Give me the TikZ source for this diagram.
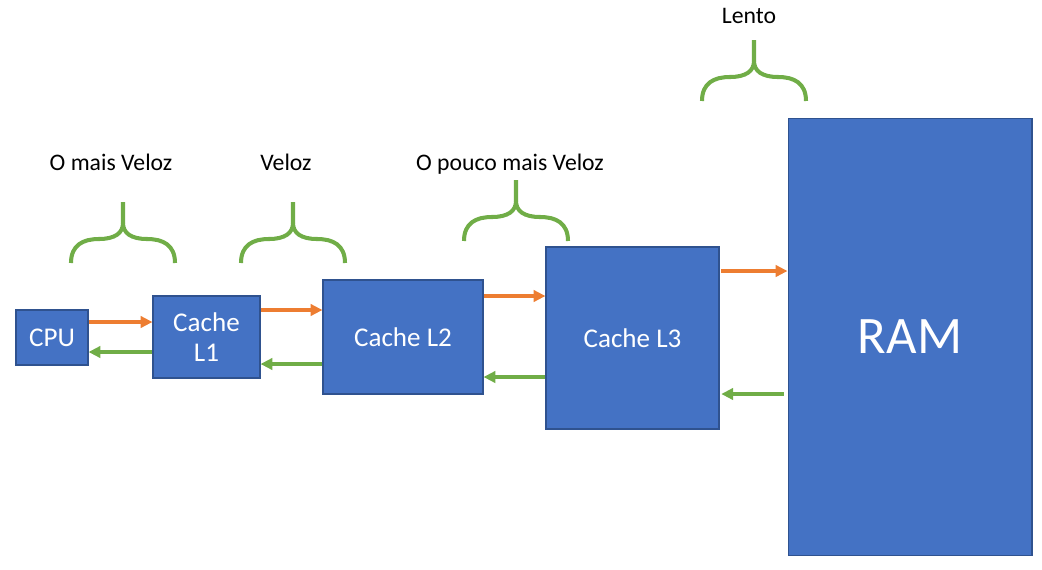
\documentclass[tikz,border=0pt]{standalone}
\usepackage{fontspec}
\setmainfont{Carlito}
\usepackage{tikz}
\usetikzlibrary{positioning}
\usetikzlibrary{arrows.meta}
\usepackage{xcolor}

\definecolor{boxblue}{HTML}{4472C4}
\definecolor{boxline}{HTML}{2F528F}
\definecolor{arrorange}{HTML}{ED7D31}
\definecolor{arrgreen}{HTML}{70AD47}

\begin{document}
\begin{tikzpicture}[x=0.02cm, y=-0.02cm,
  box/.style={draw=boxline, line width=0.6pt, fill=boxblue, text=white, inner sep=0pt, align=center, font=\fontsize{15.4}{17.5}\selectfont},
  speed/.style={anchor=base, text=black, font=\fontsize{13.5}{16}\selectfont},
  toarr/.style={arrorange, line width=2.3pt, -{Triangle[length=6.8pt, width=6.5pt]}},
  backarr/.style={arrgreen, line width=2.3pt, -{Triangle[length=6.8pt, width=6.5pt]}},
  brace/.pic={
    \draw[arrgreen, line width=2.3pt] (-52,0) .. controls (-52,-18) and (-40,-24) .. (-24,-24) .. controls (-8,-24) and (0,-30) .. (0,-40) -- (0,-61);
    \draw[arrgreen, line width=2.3pt] (52,0) .. controls (52,-18) and (40,-24) .. (24,-24) .. controls (8,-24) and (0,-30) .. (0,-40);
  }]

\useasboundingbox (0,0) rectangle (1042,569);

% boxes
\node[box, minimum width=1.44cm, minimum height=1.1cm] (cpu) at (52,337.5) {CPU};
\node[box, minimum width=2.14cm, minimum height=1.64cm] (l1) at (206.5,337) {Cache\\L1};
\node[box, minimum width=3.2cm, minimum height=2.28cm] (l2) at (403,337) {Cache L2};
\node[box, minimum width=3.46cm, minimum height=3.64cm] (l3) at (632.5,338) {Cache L3};
\node[box, minimum width=4.88cm, minimum height=8.76cm, font=\fontsize{30}{34}\selectfont] (ram) at (910,337) {RAM};

% arrows
\draw[toarr] (cpu.east |- 0,322) -- (l1.west |- 0,322);
\draw[backarr] (l1.west |- 0,352) -- (cpu.east |- 0,352);

\draw[toarr] (l1.east |- 0,310) -- (l2.west |- 0,310);
\draw[backarr] (l2.west |- 0,364) -- (l1.east |- 0,364);

\draw[toarr] (l2.east |- 0,296) -- (l3.west |- 0,296);
\draw[backarr] (l3.west |- 0,377) -- (l2.east |- 0,377);

\draw[toarr] ([xshift=1pt]l3.east |- 0,271) -- (ram.west |- 0,271);
\draw[backarr] ([xshift=-2pt]ram.west |- 0,394) -- ([xshift=1pt]l3.east |- 0,394);

% braces
\pic at (123,263) {brace};
\pic at (293,263) {brace};
\pic at (516,241) {brace};
\pic at (754,101) {brace};

% labels
\node[speed] (fastest) at (111,170) {O mais Veloz};
\node[speed] (fast) at (286,170) {Veloz};
\node[speed] (fairly) at (510,170) {O pouco mais Veloz};
\node[speed] (slow) at (749,23) {Lento};

\end{tikzpicture}
\end{document}
